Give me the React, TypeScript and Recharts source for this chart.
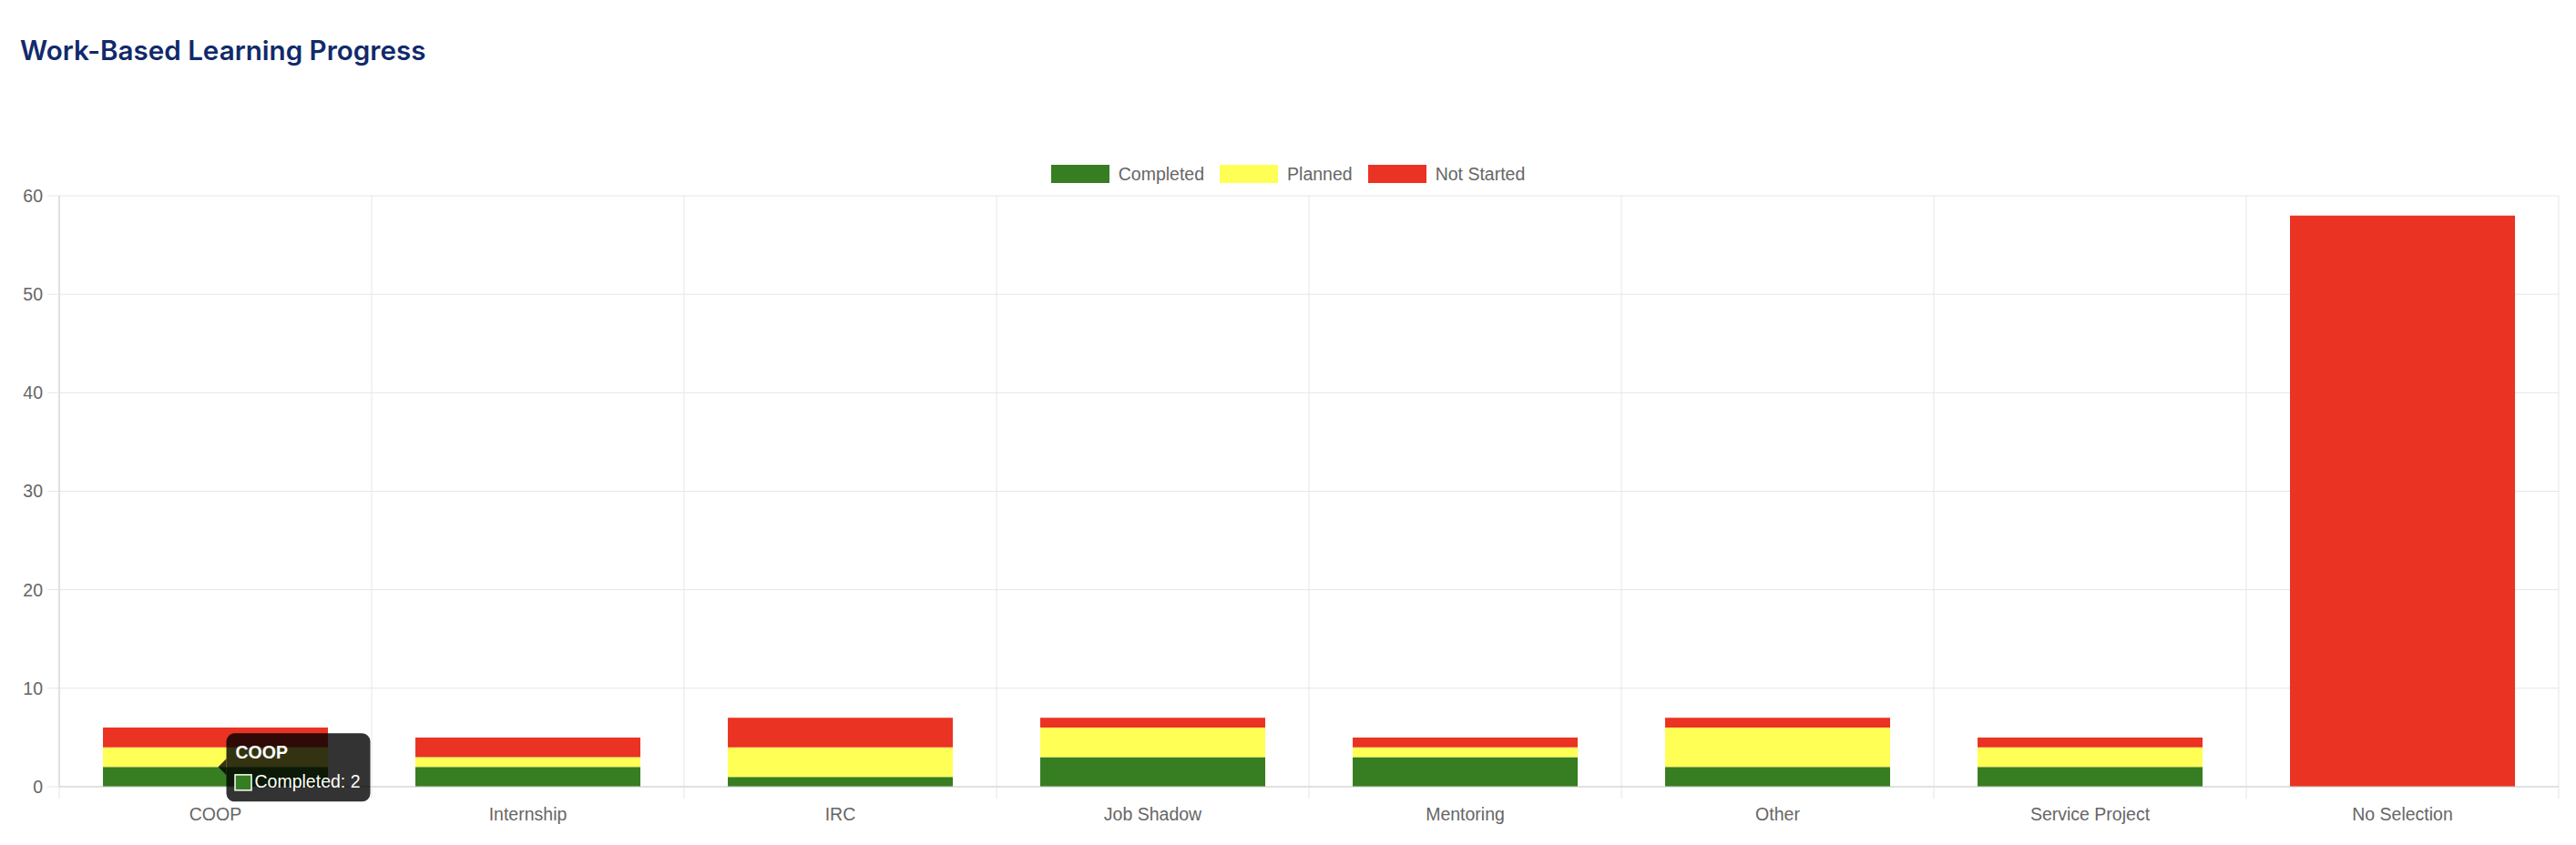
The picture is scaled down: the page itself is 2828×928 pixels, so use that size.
import React from 'react';
import { BarChart, Bar, XAxis, YAxis, CartesianGrid, Legend, LabelList } from 'recharts';

const categories = ['COOP', 'Internship', 'IRC', 'Job Shadow', 'Mentoring', 'Other', 'Service Project', 'No Selection'];
const completed = [2, 2, 1, 3, 3, 2, 2, 0];
const planned = [2, 1, 3, 3, 1, 4, 2, 0];
const notStarted = [2, 2, 3, 1, 1, 1, 1, 58];
const yTicks = [0, 10, 20, 30, 40, 50, 60];
const seriesNames = ['Completed', 'Planned', 'Not Started'];
const seriesKeys = ['completed', 'planned', 'notStarted'];
const seriesColors = ['#377d22', '#ffff55', '#ea3323'];
const tooltipIndex = 0;

const data = categories.map((name, i) => ({
  name,
  completed: completed[i],
  planned: planned[i],
  notStarted: notStarted[i],
}));

const FONT = "'Liberation Sans', Arial, Helvetica, sans-serif";
const FS = 19.5;
const W = 2812;
const H = 912;
const TICK_SIZE = 13;
const TICK_MARGIN = 10;
const GRID = '#e6e6e6';
const AXIS = '#cfcfcf';

const LegendContent = () => (
  <div
    style={{
      display: 'flex',
      justifyContent: 'center',
      alignItems: 'center',
      fontFamily: FONT,
      fontSize: FS,
      color: '#666',
      height: 22,
      lineHeight: '22px',
    }}
  >
    {seriesNames.map((n, i) => (
      <div key={n} style={{ display: 'flex', alignItems: 'center', marginRight: i < seriesNames.length - 1 ? 17 : 0 }}>
        <span style={{ display: 'inline-block', width: 64, height: 20, background: seriesColors[i], marginRight: 10 }} />
        <span>{n}</span>
      </div>
    ))}
  </div>
);

const XTick = (props: any) => {
  const { x, y, payload, index, width, visibleTicksCount } = props;
  const count = visibleTicksCount || categories.length;
  const band = Number(width) / count;
  const axisY = Number(y) - TICK_SIZE - TICK_MARGIN;
  const stubs: number[] = [Number(x) - band / 2];
  if (index === count - 1) stubs.push(Number(x) + band / 2);
  return (
    <g>
      {isFinite(band) &&
        stubs.map((sx, k) => (
          <line key={k} x1={sx} x2={sx} y1={axisY} y2={axisY + TICK_SIZE} stroke={GRID} strokeWidth={1} />
        ))}
      <text x={x} y={y} dy="0.71em" textAnchor="middle" fill="#666" fontSize={FS} fontFamily={FONT}>
        {payload.value}
      </text>
    </g>
  );
};

const TooltipMark = (props: any) => {
  const vb = props.viewBox || {};
  const x = props.x ?? vb.x;
  const y = props.y ?? vb.y;
  const width = props.width ?? vb.width;
  const height = props.height ?? vb.height;
  const index = props.index;
  if (index !== tooltipIndex) return null;
  const unit = Number(height) / notStarted[index];
  const tipX = Number(x) + Number(width) / 2 + 3;
  const tipY = Number(y) + Number(height) + planned[index] * unit;
  const boxX = tipX + 9;
  const boxY = tipY - 37;
  const bw = 158;
  const bh = 75;
  const bg = 'rgba(0,0,0,0.8)';
  return (
    <g>
      <path d={`M${tipX},${tipY} L${boxX},${tipY - 9} L${boxX},${tipY + 9} Z`} fill={bg} />
      <rect x={boxX} y={boxY} width={bw} height={bh} rx={9} ry={9} fill={bg} />
      <text x={boxX + 10} y={boxY + 28} fill="#fff" fontSize={FS} fontWeight="bold" fontFamily={FONT}>
        {categories[index]}
      </text>
      <rect x={boxX + 9.5} y={boxY + 45.5} width={18} height={17} fill={seriesColors[0]} stroke="#fff" strokeWidth={1.5} />
      <text x={boxX + 31} y={boxY + 60} fill="#fff" fontSize={FS} fontFamily={FONT}>
        {`${seriesNames[0]}: ${completed[index]}`}
      </text>
    </g>
  );
};

export default function App() {
  return (
    <div style={{ position: 'relative', width: W, height: H, background: '#fff' }}>
      <div
        style={{
          position: 'absolute',
          left: 14,
          top: 33,
          fontFamily: 'Inter, sans-serif',
          fontWeight: 600,
          fontSize: 29.6,
          lineHeight: 1,
          color: '#112a6b',
          whiteSpace: 'nowrap',
        }}
      >
        Work-Based Learning Progress
      </div>
      <div style={{ position: 'absolute', left: 0, top: 0 }}>
        <BarChart
          width={W}
          height={H}
          data={data}
          margin={{ top: 207, right: 11, bottom: 16, left: 0 }}
          barCategoryGap="14%"
        >
          <CartesianGrid
            stroke={GRID}
            strokeDasharray=""
            verticalCoordinatesGenerator={({ offset }: any) =>
              Array.from({ length: categories.length + 1 }, (_, i) => offset.left + (i * offset.width) / categories.length)
            }
          />
          <YAxis
            width={57}
            domain={[0, 60]}
            ticks={yTicks}
            interval={0}
            tickSize={TICK_SIZE}
            tickMargin={5}
            tickLine={{ stroke: GRID }}
            axisLine={{ stroke: AXIS }}
            tick={{ fill: '#666', fontSize: FS, fontFamily: FONT }}
          />
          <XAxis
            dataKey="name"
            height={40}
            interval={0}
            tickLine={false}
            tickSize={TICK_SIZE}
            tickMargin={TICK_MARGIN}
            axisLine={{ stroke: AXIS }}
            tick={<XTick />}
          />
          <Legend verticalAlign="middle" layout="horizontal" content={<LegendContent />} wrapperStyle={{ top: 172, left: 0, width: W }} />
          {seriesKeys.map((k, i) => (
            <Bar key={k} dataKey={k} name={seriesNames[i]} stackId="a" fill={seriesColors[i]} isAnimationActive={false}>
              {i === seriesKeys.length - 1 && <LabelList dataKey={k} content={<TooltipMark />} />}
            </Bar>
          ))}
        </BarChart>
      </div>
    </div>
  );
}
